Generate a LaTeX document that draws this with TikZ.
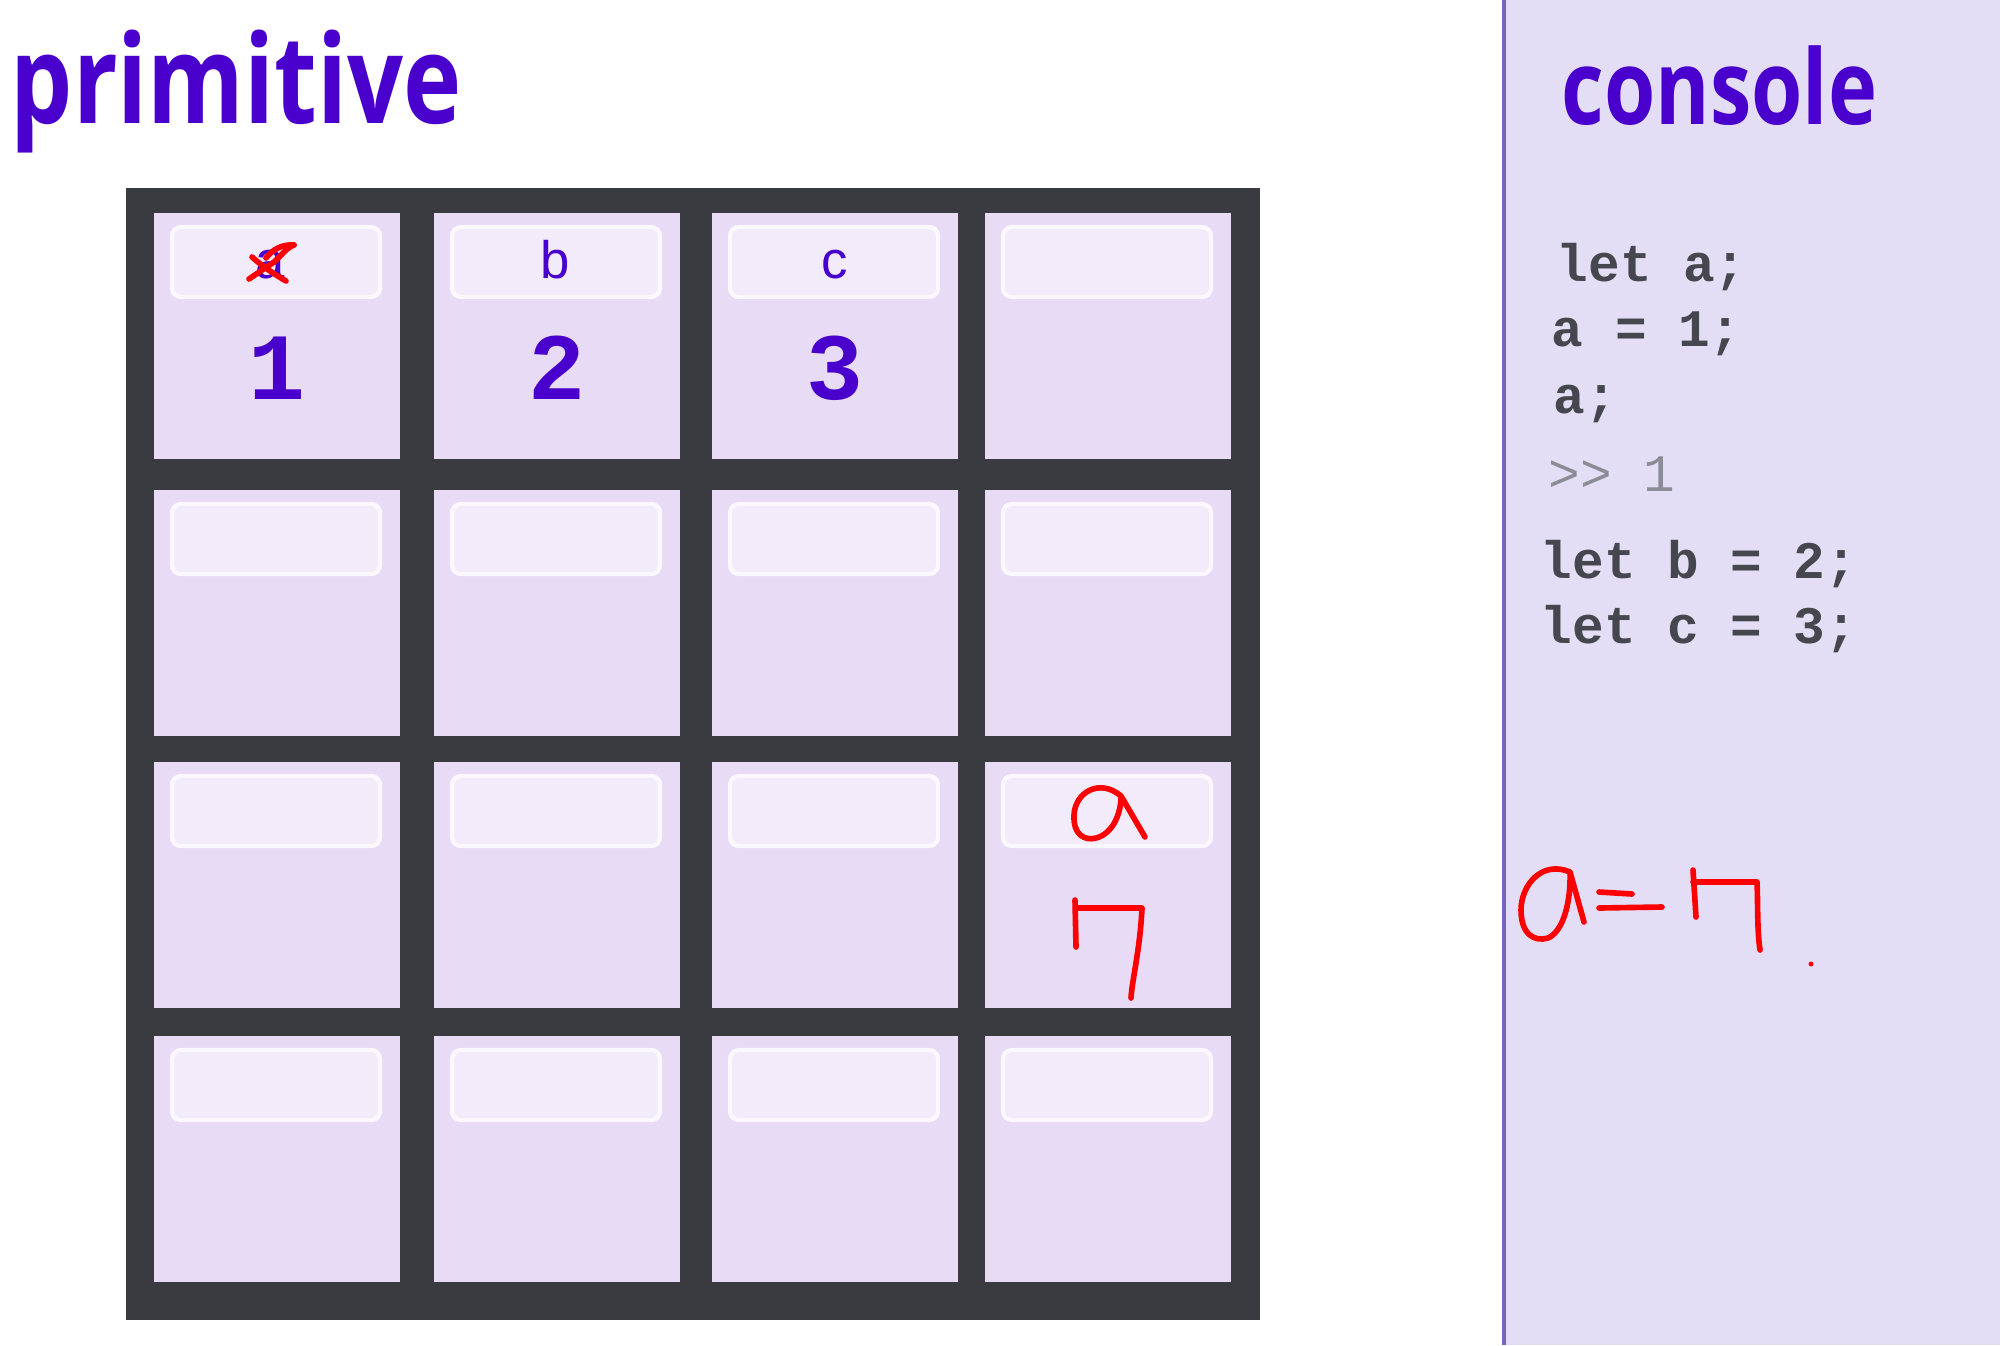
\documentclass[tikz,border=0pt]{standalone}
\usepackage{fontspec}
\setmainfont{Liberation Sans}
\newfontfamily\titlefont[FakeStretch=0.80]{Open Sans}
\newfontfamily\codefont{Liberation Mono}
\definecolor{griddark}{RGB}{58,59,64}
\definecolor{cellfill}{RGB}{231,219,245}
\definecolor{labelfill}{RGB}{241,235,250}
\definecolor{labeldraw}{RGB}{250,248,253}
\definecolor{consolebg}{RGB}{227,222,246}
\definecolor{consoleline}{RGB}{120,100,190}
\definecolor{ink}{RGB}{74,0,204}
\definecolor{codegray}{RGB}{70,70,78}
\definecolor{promptgray}{RGB}{140,140,150}
\definecolor{pen}{RGB}{255,0,0}
\tikzset{
  cellbox/.style={fill=cellfill},
  labelbox/.style={fill=labelfill, draw=labeldraw, line width=1.2pt, rounded corners=2.5pt},
  titletext/.style={text=ink, font=\titlefont\bfseries\fontsize{35}{37}\selectfont, inner sep=0pt, anchor=base west},
  keytext/.style={text=ink, font=\fontsize{15}{17}\selectfont, inner sep=0pt, anchor=base},
  valtext/.style={text=ink, font=\codefont\bfseries\fontsize{27}{29}\selectfont, inner sep=0pt, anchor=base},
  codetext/.style={text=codegray, font=\codefont\bfseries\fontsize{15}{17}\selectfont, inner sep=0pt, anchor=base west},
  penstroke/.style={draw=pen, line width=1.6pt, line cap=round, line join=round}
}
\begin{document}
\begin{tikzpicture}[x=0.01cm,y=-0.01cm]
\useasboundingbox (0,0) rectangle (2000,1345);
\fill[white] (0,0) rectangle (2000,1345);
% console panel
\fill[consolebg] (1504,0) rectangle (2000,1345);
\draw[consoleline, line width=1pt] (1504,0) -- (1504,1345);
% memory grid
\fill[griddark] (126,188) rectangle (1260,1320);
\foreach \cx [count=\i] in {154,434,712,985}{
  \foreach \cy [count=\j] in {213,490,762,1036}{
    \fill[cellbox] (\cx,\cy) rectangle ++(246,246);
    \draw[labelbox] (\cx+18,\cy+14) rectangle ++(208,70);
  }
}
% titles
\node[titletext] (ttlprim) at (10,123) {primitive};
\node[titletext, font=\titlefont\bfseries\fontsize{29.5}{31}\selectfont] (ttlcons) at (1561,124) {console};
% keys and values
\node[keytext] (ka) at (270,278) {a};
\node[keytext] (kb) at (555,278) {b};
\node[keytext] (kc) at (835,278) {c};
\node[valtext] (v1) at (277,399) {1};
\node[valtext] (v2) at (557,399) {2};
\node[valtext] (v3) at (835,399) {3};
% console code
\node[codetext] (l1) at (1556,281) {let a;};
\node[codetext] (l2) at (1551,346) {a = 1;};
\node[codetext] (l3) at (1553,413) {a;};
\node[codetext, text=promptgray, font=\codefont\fontsize{15}{17}\selectfont] (l4) at (1548,491) {>> 1};
\node[codetext] (l5) at (1540,578) {let b = 2;};
\node[codetext] (l6) at (1540,643) {let c = 3;};
% red pen: crossing out a
\draw[penstroke] (249,279) -- (274,262) .. controls (282,255) and (286,248) .. (294,245);
\draw[penstroke] (294,245) .. controls (282,244) and (272,250) .. (266,258);
\draw[penstroke] (252,257) .. controls (262,266) and (274,274) .. (286,281);
% red pen: a / 7 in cell
\draw[penstroke] (1145,837) -- (1121,796) .. controls (1100,778) and (1075,792) .. (1074,815) .. controls (1073,835) and (1085,841) .. (1096,838) .. controls (1112,834) and (1121,815) .. (1121,796);
\draw[penstroke] (1075,900) -- (1076,947);
\draw[penstroke] (1076,908) -- (1142,908) .. controls (1140,950) and (1132,980) .. (1131,998);
% red pen: a=7 in console
\draw[penstroke] (1584,922) -- (1570,872) .. controls (1542,860) and (1521,885) .. (1521,910) .. controls (1521,935) and (1535,942) .. (1548,938) .. controls (1564,931) and (1571,900) .. (1570,872);
\draw[penstroke] (1599,892) -- (1632,894);
\draw[penstroke] (1599,908) -- (1662,907);
\draw[penstroke] (1693,870) -- (1696,917);
\draw[penstroke] (1693,882) -- (1757,882) .. controls (1758,905) and (1757,930) .. (1760,950);
\fill[pen] (1811,964) circle (2.5);
\end{tikzpicture}
\end{document}
